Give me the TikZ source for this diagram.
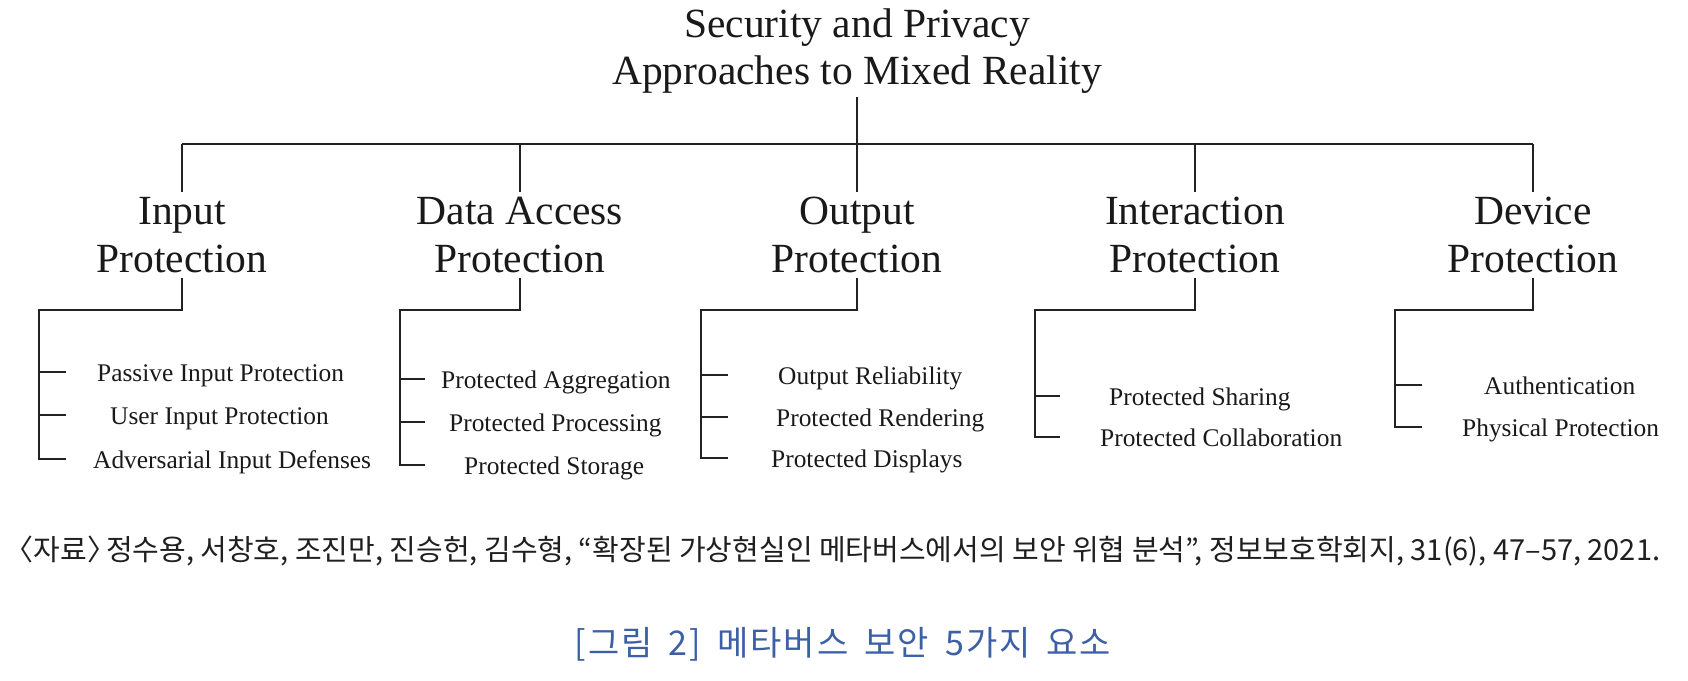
\documentclass[tikz,border=0pt]{standalone}
\usepackage{fontspec}
\setmainfont{Liberation Serif}
\newfontfamily\krfont{Noto Sans CJK KR}
\newfontfamily\krwide{Noto Sans CJK KR}[LetterSpace=6]
\usetikzlibrary{positioning}
\definecolor{linegray}{HTML}{222222}
\definecolor{capblue}{HTML}{3C5FA5}
\newcommand{\lbr}{\makebox[0.42em][r]{〈}}
\newcommand{\rbr}{\makebox[0.42em][l]{〉}}

\begin{document}
\begin{tikzpicture}[x=1pt,y=-1pt,
  tree/.style={draw=linegray,line width=2.2pt},
  head/.style={align=center,font=\fontsize{41.5}{47.7}\selectfont,inner xsep=0pt,inner ysep=5pt,text=black!90},
  item/.style={anchor=west,font=\fontsize{25.4}{30}\selectfont,inner sep=0pt,text height=23pt,text depth=5pt,text=black!90}]
\useasboundingbox (0,0) rectangle (1688,680);

\node[head,inner ysep=3pt,anchor=south] (root) at (857,97) {Security and Privacy\\Approaches to Mixed Reality};

\node[head,anchor=north] (in) at (182,192) {Input\\Protection};
\node[head,anchor=north] (da) at (520,192) {Data Access\\Protection};
\node[head,anchor=north] (out) at (857,192) {Output\\Protection};
\node[head,anchor=north] (ia) at (1195,192) {Interaction\\Protection};
\node[head,anchor=north] (dev) at (1533,192) {Device\\Protection};

\coordinate (bar) at (0,144);
\draw[tree] (in.north |- bar) -- (dev.north |- bar);
\draw[tree] (root.south) -- (out.north);
\foreach \n in {in,da,ia,dev} \draw[tree] (\n.north |- bar) -- (\n.north);

% input
\coordinate (inL) at (39,310);
\node[item] (in1) at (97,372) {Passive Input Protection};
\node[item] (in2) at (110,415) {User Input Protection};
\node[item] (in3) at (93,459) {Adversarial Input Defenses};
\draw[tree] (in.south) -- (in.south |- inL) -- (inL) -- (inL |- in3) -- ++(27,0);
\draw[tree] (inL |- in1) -- ++(27,0);
\draw[tree] (inL |- in2) -- ++(27,0);

% data access
\coordinate (daL) at (400,310);
\node[item] (da1) at (441,379) {Protected Aggregation};
\node[item] (da2) at (449,422) {Protected Processing};
\node[item] (da3) at (464,465) {Protected Storage};
\draw[tree] (da.south) -- (da.south |- daL) -- (daL) -- (daL |- da3) -- ++(25,0);
\draw[tree] (daL |- da1) -- ++(25,0);
\draw[tree] (daL |- da2) -- ++(25,0);

% output
\coordinate (outL) at (701,310);
\node[item] (out1) at (778,375) {Output Reliability};
\node[item] (out2) at (776,417) {Protected Rendering};
\node[item] (out3) at (771,458) {Protected Displays};
\draw[tree] (out.south) -- (out.south |- outL) -- (outL) -- (outL |- out3) -- ++(27,0);
\draw[tree] (outL |- out1) -- ++(27,0);
\draw[tree] (outL |- out2) -- ++(27,0);

% interaction
\coordinate (iaL) at (1035,310);
\node[item] (ia1) at (1109,396) {Protected Sharing};
\node[item] (ia2) at (1100,437) {Protected Collaboration};
\draw[tree] (ia.south) -- (ia.south |- iaL) -- (iaL) -- (iaL |- ia2) -- ++(25,0);
\draw[tree] (iaL |- ia1) -- ++(25,0);

% device
\coordinate (devL) at (1395,310);
\node[item] (dev1) at (1484,385) {Authentication};
\node[item] (dev2) at (1462,427) {Physical Protection};
\draw[tree] (dev.south) -- (dev.south |- devL) -- (devL) -- (devL |- dev2) -- ++(27,0);
\draw[tree] (devL |- dev1) -- ++(27,0);

% captions
\node[font=\krfont\fontsize{29}{30}\selectfont,text=black!88] (src) at (841,551) {\lbr 자료\rbr{} 정수용, 서창호, 조진만, 진승헌, 김수형, “확장된 가상현실인 메타버스에서의 보안 위협 분석”, 정보보호학회지, 31(6), 47–57, 2021.};
\node[font=\krwide\fontsize{34}{36}\selectfont,text=capblue] (cap) at (843,644) {\spaceskip=16pt [그림 2] 메타버스 보안 5가지 요소};
\end{tikzpicture}
\end{document}
